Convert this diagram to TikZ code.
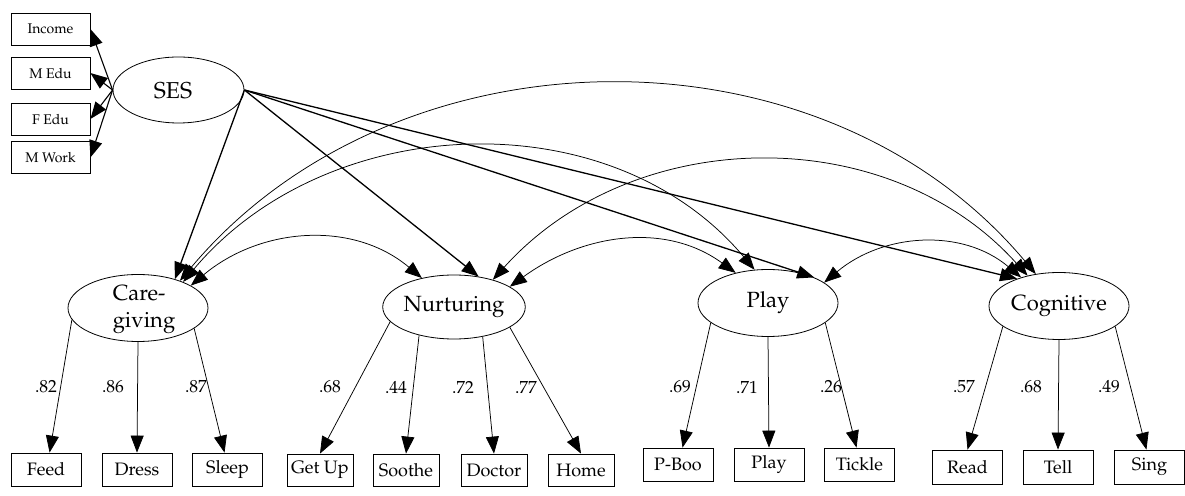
\documentclass[tikz,border=0pt]{standalone}
\usepackage[T1]{fontenc}
\usepackage{mathpazo}
\usetikzlibrary{arrows.meta,shapes.geometric}
\tikzset{
  >={Triangle[length=17pt,width=13pt]},
  latent/.style={draw, ellipse, line width=0.8pt, inner sep=0pt,
    minimum width=140pt, minimum height=67pt, font=\fontsize{22}{26}\selectfont},
  obs/.style={draw, rectangle, line width=0.8pt, inner sep=0pt,
    minimum width=70pt, minimum height=33pt, font=\fontsize{18}{20}\selectfont},
  obsn/.style={obs, minimum width=66pt, minimum height=32pt},
  sesind/.style={obs, minimum width=79pt, minimum height=32pt, font=\fontsize{14}{16}\selectfont},
  load/.style={->, line width=0.75pt},
  spath/.style={->, line width=1.3pt},
  cov/.style={<->, line width=0.75pt},
  coef/.style={inner sep=0pt, font=\fontsize{17.5}{19}\selectfont},
}
\begin{document}
\begin{tikzpicture}[x=1pt,y=1pt]
\useasboundingbox (0,0) rectangle (1185,495);

% SES and its indicators
\node[latent, minimum width=131pt, minimum height=66pt] (ses) at (178.5,405) {};
\node[inner sep=0pt, font=\fontsize{23}{26}\selectfont] (sestxt) at (173,404) {SES};
\node[sesind] (income) at (50.5,466) {Income};
\node[sesind] (medu) at (50.5,422) {M Edu};
\node[sesind] (fedu) at (50.5,376) {F Edu};
\node[sesind] (mwork) at (50.5,337.5) {M Work};

% latent factors
\node[latent] (care) at (138,187) {};
\node[inner sep=0pt, align=left, font=\fontsize{22}{27}\selectfont] (caretxt) at (144,186) {Care-\\giving};
\node[latent, minimum height=64pt] (nurt) at (454,188) {Nurturing};
\node[latent] (play) at (768,192) {Play};
\node[latent] (cog) at (1059,189) {Cognitive};

% observed indicators
\node[obs] (feed) at (46,25.5) {Feed};
\node[obs] (dress) at (137,25.5) {Dress};
\node[obs] (sleep) at (227.5,25.5) {Sleep};
\node[obsn] (getup) at (320,25) {Get Up};
\node[obsn] (soothe) at (406,25) {Soothe};
\node[obsn] (doctor) at (494,25) {Doctor};
\node[obsn] (home) at (581,25) {Home};
\node[obs] (pboo) at (678,30.5) {P-Boo};
\node[obs] (playb) at (769,30.5) {Play};
\node[obs] (tickle) at (859.5,30.5) {Tickle};
\node[obs, minimum height=34pt] (read) at (967.5,28) {Read};
\node[obs, minimum height=34pt] (tell) at (1058,28) {Tell};
\node[obs, minimum height=34pt] (sing) at (1149.5,28) {Sing};

% SES -> indicators
\draw[spath, line width=1.1pt] (ses.west) -- (income.east);
\draw[spath, line width=1.1pt] (ses.west) -- (medu.east);
\draw[spath, line width=1.1pt] (ses.west) -- (fedu.east);
\draw[spath, line width=1.1pt] (ses.west) -- (mwork.east);

% structural paths
\draw[spath] (ses.east) -- (care.38);
\draw[spath] (ses.east) -- (nurt.51);
\draw[spath] (ses.east) -- (play.29);
\draw[spath] (ses.east) -- (cog.147);

% covariances
\draw[cov] (care.23) to[out=40,in=140] (nurt.138);
\draw[cov] (nurt.20) to[out=36,in=144] (play.137);
\draw[cov] (play.20) to[out=40,in=140] (cog.143);
\draw[cov] (care.30) to[out=50,in=130] (play.112);
\draw[cov] (nurt.35) to[out=48,in=132] (cog.136);
\draw[cov] (care.33) to[out=50,in=130] (cog.126);

% loadings
\draw[load] (care.190) -- (feed.78);
\draw[load] (care.south) -- (dress.north);
\draw[load] (care.340) -- (sleep.100);
\draw[load] (nurt.193) -- (getup.north);
\draw[load] (nurt.219) -- (soothe.north);
\draw[load] (nurt.314) -- (doctor.north);
\draw[load] (nurt.340) -- (home.north);
\draw[load] (play.199) -- (pboo.75);
\draw[load] (play.south) -- (playb.north);
\draw[load] (play.341) -- (tickle.100);
\draw[load] (cog.200) -- (read.north);
\draw[load] (cog.south) -- (tell.north);
\draw[load] (cog.340) -- (sing.100);

% coefficients
\node[coef] (c1) at (46,108) {.82};
\node[coef] (c2) at (113,108) {.86};
\node[coef] (c3) at (196,108) {.87};
\node[coef] (c4) at (330,108) {.68};
\node[coef] (c5) at (396,108) {.44};
\node[coef] (c6) at (463,108) {.72};
\node[coef] (c7) at (526,108) {.77};
\node[coef] (c8) at (680,108) {.69};
\node[coef] (c9) at (747,108) {.71};
\node[coef] (c10) at (831,108) {.26};
\node[coef] (c11) at (964,108) {.57};
\node[coef] (c12) at (1031,108) {.68};
\node[coef] (c13) at (1109,108) {.49};
\end{tikzpicture}
\end{document}
